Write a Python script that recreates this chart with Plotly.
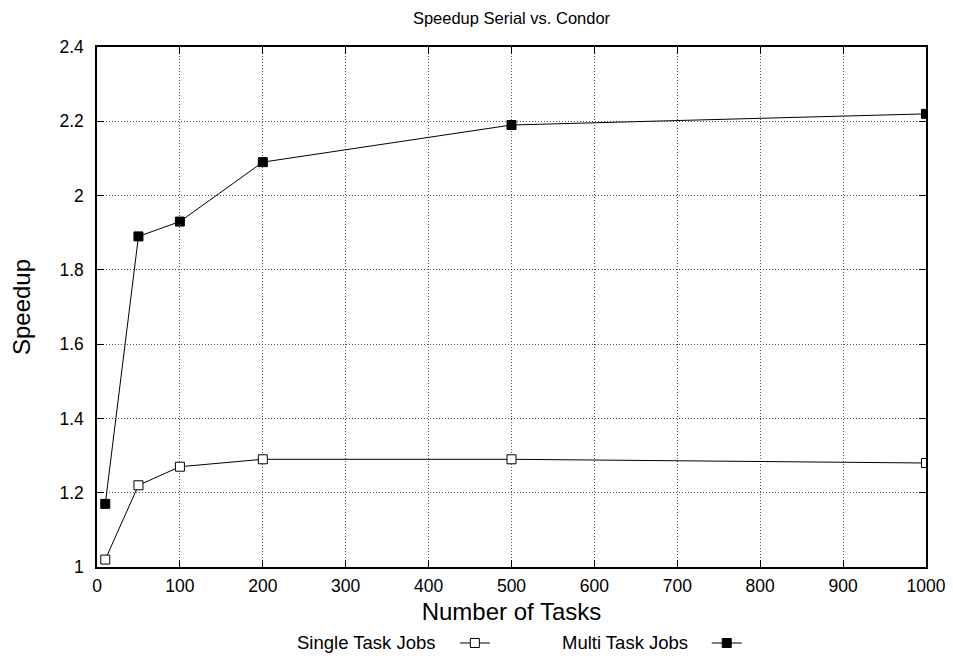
import plotly.graph_objects as go

tasks = [10, 50, 100, 200, 500, 1000]
single = [1.02, 1.22, 1.27, 1.29, 1.29, 1.28]
multi = [1.17, 1.89, 1.93, 2.09, 2.19, 2.22]
labels = ["Single Task Jobs", "Multi Task Jobs"]

FONT = "Liberation Sans, Arial, sans-serif"

fig = go.Figure()
fig.add_trace(go.Scatter(
    x=tasks, y=single, name=" ", mode="lines+markers", legend="legend",
    line=dict(color="black", width=1),
    marker=dict(symbol="square", size=9, color="white", line=dict(color="black", width=1)),
))
fig.add_trace(go.Scatter(
    x=tasks, y=multi, name=" ", mode="lines+markers", legend="legend2",
    line=dict(color="black", width=1),
    marker=dict(symbol="square", size=9, color="black", line=dict(color="black", width=1)),
))

axis_common = dict(
    showline=True, linecolor="black", linewidth=1.5, mirror="ticks",
    ticks="inside", ticklen=7, tickcolor="black", tickwidth=1,
    showgrid=True, gridcolor="#555", gridwidth=1, griddash="1px,2px",
    zeroline=False, automargin=False,
    tickfont=dict(size=17.5, color="black", family=FONT),
)

leg_common = dict(orientation="h", xref="container", yref="container",
                  y=1 - 635 / 658, yanchor="middle", xanchor="left",
                  font=dict(size=10, color="black"), bgcolor="rgba(0,0,0,0)",
                  borderwidth=0)

fig.update_layout(
    width=953, height=658,
    paper_bgcolor="white", plot_bgcolor="white",
    margin=dict(l=89, r=35, t=39, b=99),
    font=dict(family=FONT, color="black"),
    title=dict(text="Speedup Serial vs. Condor", x=0.5, xanchor="center",
               xref="paper", y=1 - 10 / 658, yanchor="middle",
               font=dict(size=16.5, color="black")),
    xaxis=dict(range=[0, 1000], dtick=100, ticklabelstandoff=2,
               title=dict(text="Number of Tasks", font=dict(size=24), standoff=8), **axis_common),
    yaxis=dict(range=[1, 2.4], dtick=0.2, ticklabelstandoff=8,
               title=dict(text="Speedup", font=dict(size=24), standoff=27), **axis_common),
    legend=dict(x=0.4689, **leg_common),
    legend2=dict(x=0.7332, **leg_common),
    showlegend=True,
    annotations=[
        dict(text=labels[0], xref="paper", yref="paper", x=0.4116, y=-0.146,
             xanchor="right", yanchor="middle", showarrow=False,
             font=dict(size=18.5, color="black", family=FONT)),
        dict(text=labels[1], xref="paper", yref="paper", x=0.7154, y=-0.146,
             xanchor="right", yanchor="middle", showarrow=False,
             font=dict(size=18.5, color="black", family=FONT)),
    ],
)

fig.write_html("out.html")
